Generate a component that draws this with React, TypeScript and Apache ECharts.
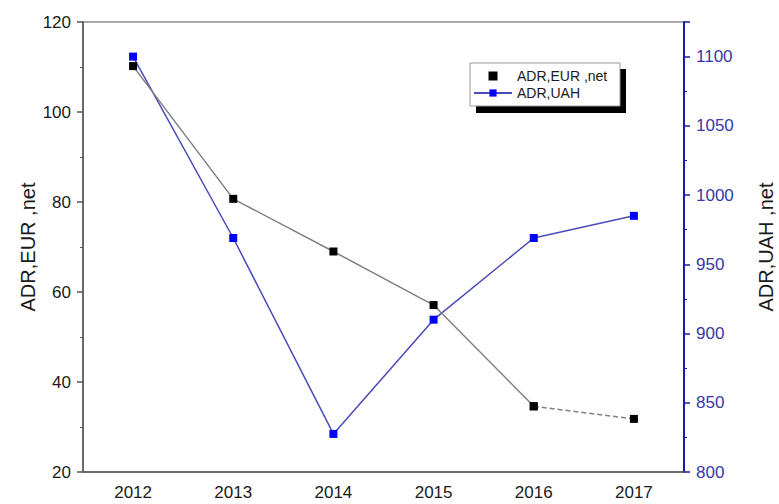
import React, { useEffect, useRef } from "react";
import * as echarts from "echarts";

const years = ["2012", "2013", "2014", "2015", "2016", "2017"];
const eurNet = [110.2, 80.7, 69.0, 57.1, 34.6, 31.8];
const uah = [1100, 969, 827.5, 910, 969, 985];
const eurName = "ADR,EUR ,net";
const uahName = "ADR,UAH";
const leftAxisName = "ADR,EUR ,net";
const rightAxisName = "ADR,UAH ,net";

const FONT = "'Liberation Sans', Arial, sans-serif";

export default function App() {
  const ref = useRef<HTMLDivElement>(null);
  useEffect(() => {
    if (!ref.current) return;
    const chart = echarts.init(ref.current, null, { renderer: "svg" });
    const lastSolid = eurNet.length - 2;
    const eurSolid = eurNet.map((v, i) => (i <= lastSolid ? v : null));
    const eurDashed = eurNet.map((v, i) => (i >= lastSolid ? v : null));
    chart.setOption({
      animation: false,
      backgroundColor: "#ffffff",
      grid: {
        left: 83,
        right: 95,
        top: 22,
        bottom: 32,
        show: true,
        borderColor: "#555",
        borderWidth: 1,
        containLabel: false,
        outerBoundsMode: "none",
      },
      xAxis: [
        {
          type: "category",
          data: years,
          boundaryGap: true,
          axisLine: { lineStyle: { color: "#555", width: 1.5 } },
          axisTick: { alignWithLabel: true, length: 6, lineStyle: { color: "#555", width: 1.5 } },
          axisLabel: { fontFamily: FONT, fontSize: 17, color: "#1a1a1a", margin: 12 },
          splitLine: { show: false },
        },
        {
          type: "category",
          data: years,
          position: "bottom",
          boundaryGap: true,
          axisLine: { show: false },
          axisTick: { alignWithLabel: false, length: 3, lineStyle: { color: "#555", width: 1 } },
          axisLabel: { show: false },
          splitLine: { show: false },
        },
      ],
      yAxis: [
        {
          type: "value",
          min: 20,
          max: 120,
          interval: 20,
          name: leftAxisName,
          nameLocation: "middle",
          nameRotate: 90,
          nameGap: 45,
          nameMoveOverlap: false,
          nameTextStyle: { fontFamily: FONT, fontSize: 20, color: "#1a1a1a" },
          axisLine: { show: true, lineStyle: { color: "#555", width: 1.5 } },
          axisTick: { show: true, length: 6, lineStyle: { color: "#555", width: 1.5 } },
          minorTick: { show: true, splitNumber: 2, length: 3, lineStyle: { color: "#555" } },
          axisLabel: { fontFamily: FONT, fontSize: 17, color: "#1a1a1a", margin: 12 },
          splitLine: { show: false },
        },
        {
          type: "value",
          min: 800,
          max: 1125,
          interval: 50,
          position: "right",
          name: rightAxisName,
          nameLocation: "middle",
          nameRotate: 90,
          nameGap: 72,
          nameMoveOverlap: false,
          nameTextStyle: { fontFamily: FONT, fontSize: 20, color: "#1a1a1a" },
          axisLine: { show: true, lineStyle: { color: "#1a1aa8", width: 2 } },
          axisTick: { show: true, length: 6, lineStyle: { color: "#1a1aa8", width: 1.5 } },
          minorTick: { show: true, splitNumber: 2, length: 3, lineStyle: { color: "#1a1aa8" } },
          axisLabel: {
            fontFamily: FONT,
            fontSize: 17,
            color: "#3838a8",
            margin: 12,
            showMaxLabel: false,
            formatter: (v: number) => String(v),
          },
          splitLine: { show: false },
        },
      ],
      legend: {
        orient: "vertical",
        left: 468,
        top: 64,
        itemWidth: 38,
        itemHeight: 9,
        itemGap: 3,
        z: 10,
        selectedMode: false,
        textStyle: { fontFamily: FONT, fontSize: 14, color: "#1a1a1a" },
        data: [
          { name: eurName, icon: "path://M0,0H10V10H0Z" },
          { name: uahName },
        ],
      },
      graphic: [
        {
          type: "rect",
          z: 1,
          shape: { x: 476, y: 69, width: 150, height: 44 },
          style: { fill: "#000" },
        },
        {
          type: "rect",
          z: 2,
          shape: { x: 470, y: 63, width: 150, height: 43 },
          style: { fill: "#fff", stroke: "#999", lineWidth: 1 },
        },
      ],
      series: [
        {
          name: uahName,
          type: "line",
          yAxisIndex: 1,
          data: uah,
          symbol: "rect",
          symbolSize: 8,
          itemStyle: { color: "#0000ff" },
          lineStyle: { color: "#4a4ab8", width: 1.5 },
          z: 3,
        },
        {
          name: eurName,
          type: "line",
          yAxisIndex: 0,
          data: eurSolid,
          symbol: "rect",
          symbolSize: 8,
          itemStyle: { color: "#000" },
          lineStyle: { color: "#808080", width: 1.5 },
          z: 4,
        },
        {
          name: eurName + " (dash)",
          type: "line",
          yAxisIndex: 0,
          data: eurDashed,
          symbol: "rect",
          symbolSize: 8,
          itemStyle: { color: "#000" },
          lineStyle: { color: "#808080", width: 1.5, type: [5, 3] },
          z: 4,
        },
      ],
    });
    return () => chart.dispose();
  }, []);
  return <div ref={ref} style={{ width: 779, height: 504, position: "absolute", left: 0, top: 0 }} />;
}
